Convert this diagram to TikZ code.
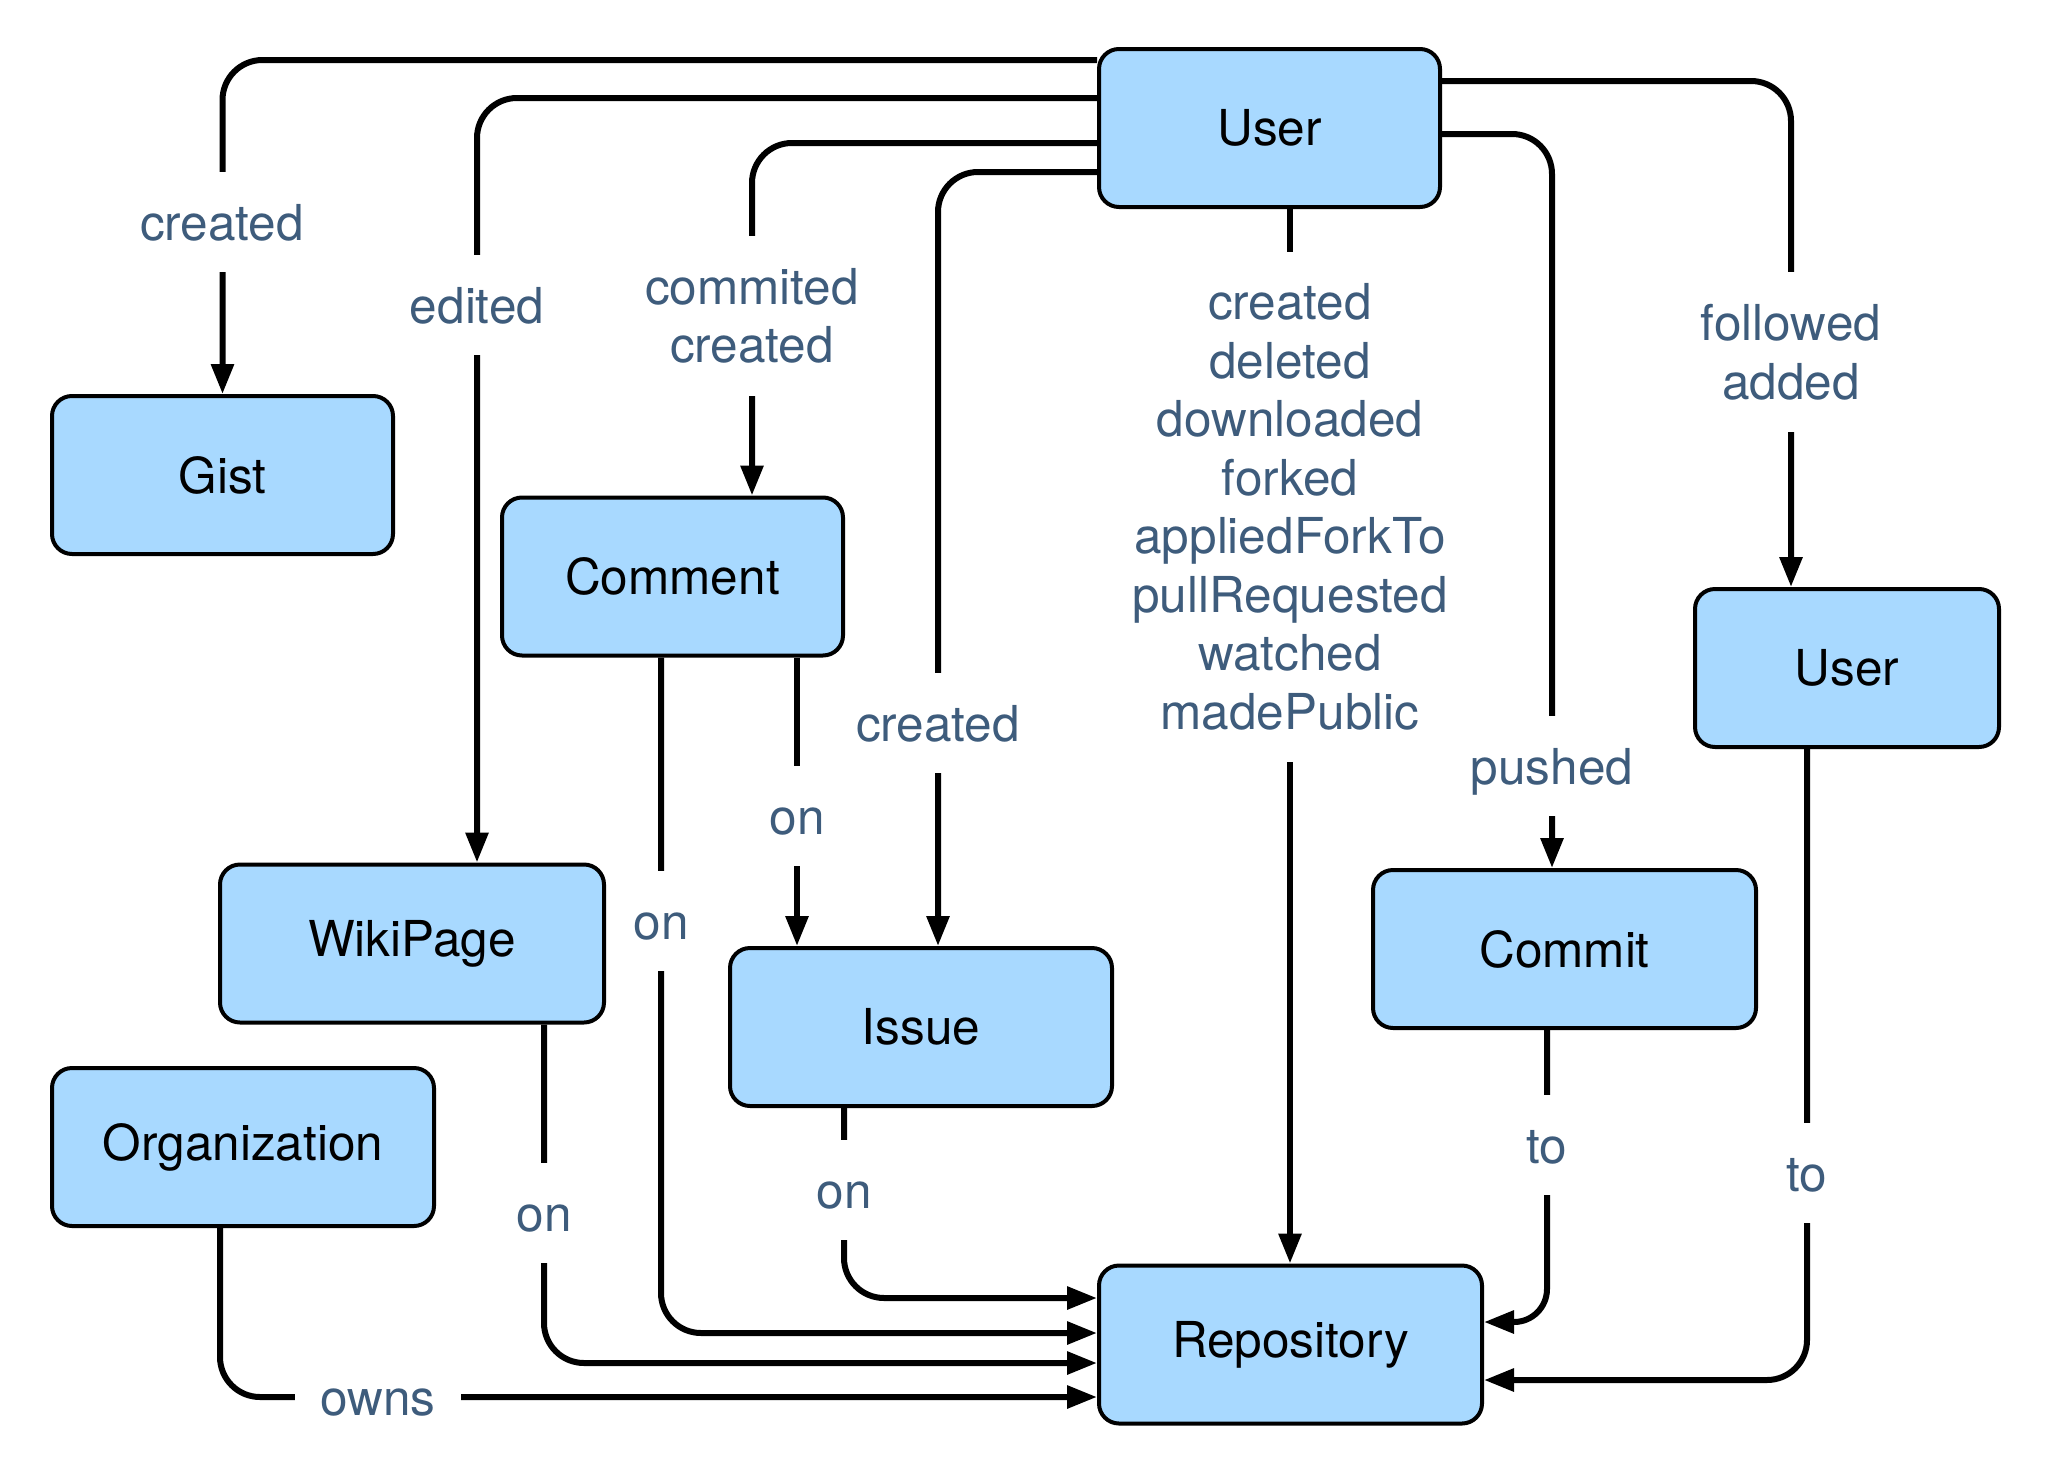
\documentclass[tikz,border=0pt]{standalone}
\usepackage{fontspec}
\setmainfont{TeX Gyre Heros}
\usetikzlibrary{arrows.meta}
\definecolor{boxfill}{HTML}{A8D9FF}
\definecolor{lblcol}{HTML}{3E5C7C}
\begin{document}
\begin{tikzpicture}[x=1pt,y=-1pt,
  box/.style={draw=black, line width=4pt, fill=boxfill, rounded corners=20pt, minimum height=158pt, inner sep=0pt, font=\fontsize{49.5}{58.5}\selectfont, text=black},
  lbl/.style={fill=white, text=lblcol, font=\fontsize{49.5}{58.5}\selectfont, align=center, inner xsep=25pt, inner ysep=32pt},
  one/.style={text height=36pt, text depth=0pt},
  conn/.style={line width=6pt, rounded corners=40pt, -{Triangle[length=30pt,width=22pt]}}]
\useasboundingbox (0,0) rectangle (2045,1483);

% boxes
\node[box, minimum width=341pt] (user) at (1269.5,128) {User};
\node[box, minimum width=341pt] (gist) at (222.5,475) {Gist};
\node[box, minimum width=341pt] (comment) at (672.5,576.5) {Comment};
\node[box, minimum width=384pt] (wiki) at (412,943.5) {WikiPage};
\node[box, minimum width=382pt] (issue) at (921,1027) {Issue};
\node[box, minimum width=382pt] (org) at (243,1147) {Organization};
\node[box, minimum width=383pt] (repo) at (1290.5,1344.5) {Repository};
\node[box, minimum width=383pt] (commit) at (1564.5,949) {Commit};
\node[box, minimum width=304pt] (user2) at (1847,668) {User};

% connectors
\draw[conn] (user.west |- 0,60) -| (gist);
\draw[conn] (user.west |- 0,98) -| (wiki.north -| 477,0);
\draw[conn] (user.west |- 0,143) -| (comment.north -| 752,0);
\draw[conn] (user.west |- 0,172) -| (issue.north -| 938,0);
\draw[conn] (user.south -| 1290,0) -- (repo.north -| 1290,0);
\draw[conn] (user.east |- 0,81) -| (user2.north -| 1791,0);
\draw[conn] (user.east |- 0,134) -| (commit.north -| 1552,0);
\draw[conn] (comment.south -| 661,0) |- (repo.west |- 0,1333);
\draw[conn] (comment.south -| 797,0) -- (issue.north -| 797,0);
\draw[conn] (issue.south -| 844,0) |- (repo.west |- 0,1298);
\draw[conn] (wiki.south -| 544,0) |- (repo.west |- 0,1363);
\draw[conn] (org.south -| 220,0) |- (repo.west |- 0,1397);
\draw[conn, rounded corners=33pt] (commit.south -| 1547,0) |- (repo.east |- 0,1322);
\draw[conn] (user2.south -| 1807,0) |- (repo.east |- 0,1380);

% labels
\node[lbl,one] (l1) at (222,222) {created};
\node[lbl,one] (l2) at (477,305) {edited};
\node[lbl] (l3) at (752,316) {commited\\created};
\node[lbl,one] (l4) at (938,723) {created};
\node[lbl] (l5) at (1290,507) {created\\deleted\\downloaded\\forked\\appliedForkTo\\pullRequested\\watched\\madePublic};
\node[lbl] (l6) at (1791,352) {followed\\added};
\node[lbl,one] (l7) at (1552,766) {pushed};
\node[lbl,one] (l8) at (661,921) {on};
\node[lbl,one] (l9) at (797,816) {on};
\node[lbl,one] (l10) at (844,1190) {on};
\node[lbl,one] (l11) at (544,1213) {on};
\node[lbl,one] (l12) at (378,1397) {owns};
\node[lbl,one] (l13) at (1547,1145) {to};
\node[lbl,one] (l14) at (1807,1173) {to};
\end{tikzpicture}
\end{document}
